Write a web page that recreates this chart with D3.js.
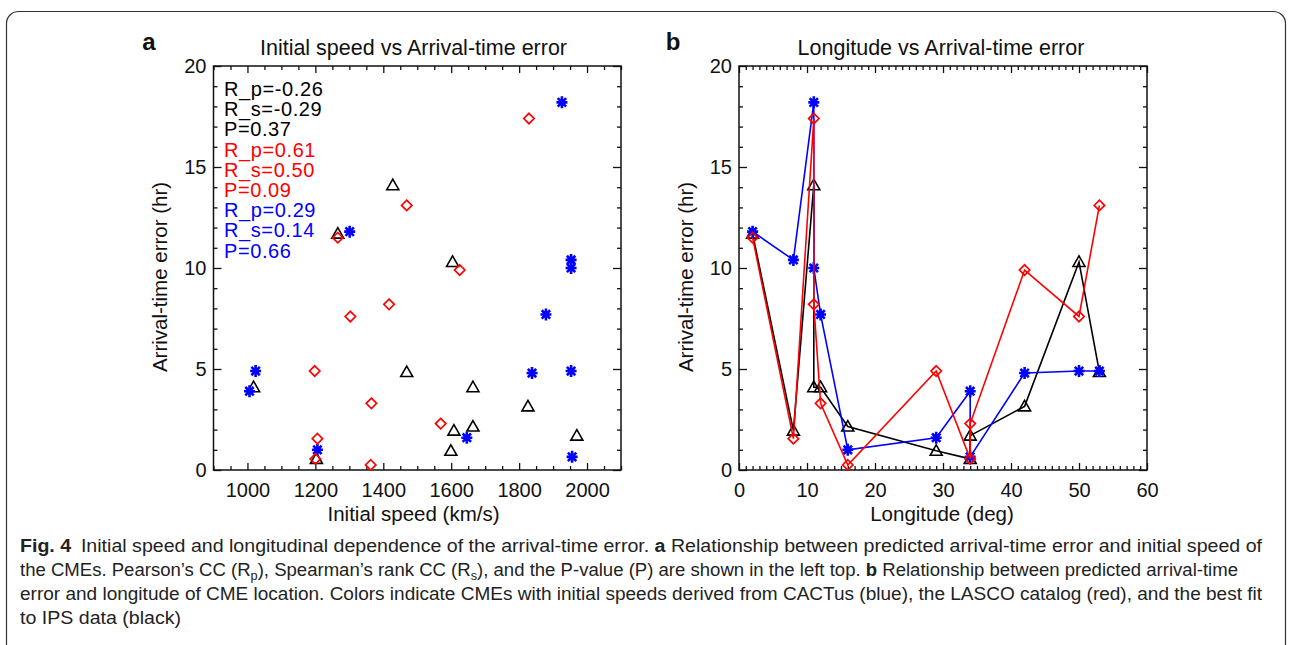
<!DOCTYPE html>
<html><head><meta charset="utf-8">
<script src="https://cdn.jsdelivr.net/npm/d3@7"></script>
<style>
body{margin:0;background:#fff}
svg{display:block}
text{font-family:"Liberation Sans",Arial,sans-serif}
.cap{font-family:"Liberation Sans Narrow","Liberation Sans",sans-serif;font-size:17.5px;fill:#222}
</style>
</head><body>
<svg id="c" width="1292" height="645"></svg>
<script>
// ---- data (one entry per CME event, ordered by longitude) ----
const longitude   = [2, 8, 11, 11, 12, 16, 29, 34, 34, 42, 50, 53];
const speedCACTus = [1301, 1953, 1926, 1953, 1879, 1206, 1646, 1006, 1956, 1838, 1953, 1024];
const errCACTus   = [11.8, 10.4, 18.2, 10.0, 7.7, 1.0, 1.6, 3.9, 0.65, 4.8, 4.9, 4.9];
const speedLASCO  = [1266, 1206, 1829, 1417, 1365, 1363, 1198, 1200, 1569, 1625, 1303, 1469];
const errLASCO    = [11.5, 1.55, 17.4, 8.2, 3.3, 0.25, 4.9, 0.55, 2.3, 9.9, 7.6, 13.1];
const speedIPS    = [1266, 1608, 1428, 1018, 1664, 1664, 1599, 1203, 1970, 1826, 1604, 1469];
const errIPS      = [11.7, 1.95, 14.1, 4.1, 4.1, 2.15, 0.95, 0.55, 1.7, 3.15, 10.3, 4.85];

const statsIPS    = ["R_p=-0.26", "R_s=-0.29", "P=0.37"];
const statsLASCO  = ["R_p=0.61", "R_s=0.50", "P=0.09"];
const statsCACTus = ["R_p=0.29", "R_s=0.14", "P=0.66"];

const speedTicks = [1000, 1200, 1400, 1600, 1800, 2000];
const lonTicks   = [0, 10, 20, 30, 40, 50, 60];
const errTicks   = [0, 5, 10, 15, 20];

const svg = d3.select("#c");

// outer rounded border
svg.append("rect").attr("x", 6.5).attr("y", 11.5).attr("width", 1279).attr("height", 720)
  .attr("rx", 12).attr("fill", "none").attr("stroke", "#333").attr("stroke-width", 1.2);

const y = d3.scaleLinear().domain([0, 20]).range([470, 66]);
const xL = d3.scaleLinear().domain([900, 2100]).range([213.5, 621]);
const xR = d3.scaleLinear().domain([0, 60]).range([739, 1147]);
const fmt = d3.format("d");

function frame(x, xMajor, xMinor) {
  const g = svg.append("g");
  const [x0, x1] = x.range();
  const [y0, y1] = y.range();
  const style = sel => {
    sel.select(".domain").remove();
    sel.selectAll("line").attr("stroke", "#111").attr("stroke-width", 1.3);
    sel.selectAll("text").attr("font-size", 20).attr("fill", "#111")
      .attr("font-family", "Liberation Sans, Arial, sans-serif");
  };
  // bottom
  g.append("g").attr("transform", `translate(0,${y0})`)
    .call(d3.axisBottom(x).tickValues(xMajor).tickFormat(fmt).tickSizeInner(-7).tickSizeOuter(0).tickPadding(13)).call(style);
  g.append("g").attr("transform", `translate(0,${y0})`)
    .call(d3.axisBottom(x).tickValues(xMinor).tickSizeInner(-4).tickSizeOuter(0).tickFormat("")).call(style);
  // top
  g.append("g").attr("transform", `translate(0,${y1})`)
    .call(d3.axisTop(x).tickValues(xMajor).tickSizeInner(-7).tickSizeOuter(0).tickFormat("")).call(style);
  g.append("g").attr("transform", `translate(0,${y1})`)
    .call(d3.axisTop(x).tickValues(xMinor).tickSizeInner(-4).tickSizeOuter(0).tickFormat("")).call(style);
  const yMinor = d3.range(0, 21, 1).filter(v => v % 5 !== 0);
  // left
  g.append("g").attr("transform", `translate(${x0},0)`)
    .call(d3.axisLeft(y).tickValues(errTicks).tickFormat(fmt).tickSizeInner(-8).tickSizeOuter(0).tickPadding(7)).call(style);
  g.append("g").attr("transform", `translate(${x0},0)`)
    .call(d3.axisLeft(y).tickValues(yMinor).tickSizeInner(-4).tickSizeOuter(0).tickFormat("")).call(style);
  // right
  g.append("g").attr("transform", `translate(${x1},0)`)
    .call(d3.axisRight(y).tickValues(errTicks).tickSizeInner(-8).tickSizeOuter(0).tickFormat("")).call(style);
  g.append("g").attr("transform", `translate(${x1},0)`)
    .call(d3.axisRight(y).tickValues(yMinor).tickSizeInner(-4).tickSizeOuter(0).tickFormat("")).call(style);
  g.append("rect").attr("x", x0).attr("y", y1).attr("width", x1 - x0).attr("height", y0 - y1)
    .attr("fill", "none").attr("stroke", "#111").attr("stroke-width", 1.5);
  return g;
}

const minorSpeed = d3.range(900, 2101, 50).filter(v => v % 200 !== 0);
const minorLon = d3.range(0, 61, 1).filter(v => v % 10 !== 0);
frame(xL, speedTicks, minorSpeed);
frame(xR, lonTicks, minorLon);

// markers
const shapes = {
  tri: "M0,-6L6,4.5L-6,4.5Z",
  dia: "M0,-5.2L5.2,0L0,5.2L-5.2,0Z",
  ast: "M-5.5,0H5.5M0,-6V6M-4.2,-4.2L4.2,4.2M-4.2,4.2L4.2,-4.2"
};
const series = [
  {speed: speedIPS, err: errIPS, color: "#000", shape: "tri", sw: 1.6},
  {speed: speedCACTus, err: errCACTus, color: "#0000ff", shape: "ast", sw: 2.6},
  {speed: speedLASCO, err: errLASCO, color: "#ff0000", shape: "dia", sw: 1.7}
];

// left panel: scatter
series.forEach(s => {
  svg.append("g").selectAll("path").data(s.speed.map((v, i) => [v, s.err[i]])).join("path")
    .attr("transform", d => `translate(${xL(d[0])},${y(d[1])})`)
    .attr("d", shapes[s.shape]).attr("fill", "none").attr("stroke", s.color).attr("stroke-width", s.sw);
});

// right panel: lines + markers
series.forEach(s => {
  const pts = longitude.map((l, i) => [l, s.err[i]]);
  svg.append("path").datum(pts)
    .attr("d", d3.line().x(d => xR(d[0])).y(d => y(d[1])))
    .attr("fill", "none").attr("stroke", s.color).attr("stroke-width", 1.6);
  svg.append("g").selectAll("path").data(pts).join("path")
    .attr("transform", d => `translate(${xR(d[0])},${y(d[1])})`)
    .attr("d", shapes[s.shape]).attr("fill", "none").attr("stroke", s.color).attr("stroke-width", s.sw);
});

// stats text
const stats = [].concat(
  statsIPS.map(t => [t, "#000"]),
  statsLASCO.map(t => [t, "#ff0000"]),
  statsCACTus.map(t => [t, "#0000ff"])
);
svg.append("g").selectAll("text").data(stats).join("text")
  .attr("x", 224).attr("y", (d, i) => 96 + i * 20.2)
  .attr("font-size", 20).attr("fill", d => d[1]).style("letter-spacing", "0.6px").text(d => d[0]);

// titles and labels
const txt = (x, y, s, size, opts = {}) => {
  const t = svg.append("text").attr("x", x).attr("y", y).attr("font-size", size)
    .attr("text-anchor", opts.anchor || "middle").attr("fill", "#111").text(s);
  if (opts.bold) t.attr("font-weight", "bold");
  if (opts.rot) t.attr("transform", `rotate(-90,${x},${y})`);
  return t;
};
txt(149, 50, "a", 24, {bold: true});
txt(673, 50, "b", 24, {bold: true});
txt(413.5, 55, "Initial speed vs Arrival-time error", 21.5);
txt(941, 55, "Longitude vs Arrival-time error", 21.5);
txt(413.5, 521, "Initial speed (km/s)", 20.5);
txt(942, 521, "Longitude (deg)", 20.5);
txt(167, 277, "Arrival-time error (hr)", 20.5, {rot: true});
txt(693, 277, "Arrival-time error (hr)", 20.5, {rot: true});

// caption
const cap = svg.append("g").attr("class", "cap");
const l1 = cap.append("text").attr("x", 20).attr("y", 552);
l1.append("tspan").attr("font-weight", "bold").text("Fig. 4");
l1.append("tspan").text("\u2002Initial speed and longitudinal dependence of the arrival-time error. ");
l1.append("tspan").attr("font-weight", "bold").text("a");
l1.append("tspan").text(" Relationship between predicted arrival-time error and initial speed of");
const l2 = cap.append("text").attr("x", 20).attr("y", 576);
l2.append("tspan").text("the CMEs. Pearson\u2019s CC (R");
l2.append("tspan").attr("font-size", 12).attr("dy", 4).text("p");
l2.append("tspan").attr("dy", -4).text("), Spearman\u2019s rank CC (R");
l2.append("tspan").attr("font-size", 12).attr("dy", 4).text("s");
l2.append("tspan").attr("dy", -4).text("), and the P-value (P) are shown in the left top. ");
l2.append("tspan").attr("font-weight", "bold").text("b");
l2.append("tspan").text(" Relationship between predicted arrival-time");
const l3 = cap.append("text").attr("x", 20).attr("y", 600)
  .text("error and longitude of CME location. Colors indicate CMEs with initial speeds derived from CACTus (blue), the LASCO catalog (red), and the best fit");
const l4 = cap.append("text").attr("x", 20).attr("y", 624).text("to IPS data (black)");
// condense caption to the reference line widths
const r = 1242 / l1.node().getComputedTextLength();
[[l1, 1242], [l2, 1218], [l3, 1242], [l4, null]].forEach(([t, w]) => {
  const target = w || t.node().getComputedTextLength() * r;
  t.attr("textLength", target).attr("lengthAdjust", "spacingAndGlyphs");
});
</script>
</body></html>
